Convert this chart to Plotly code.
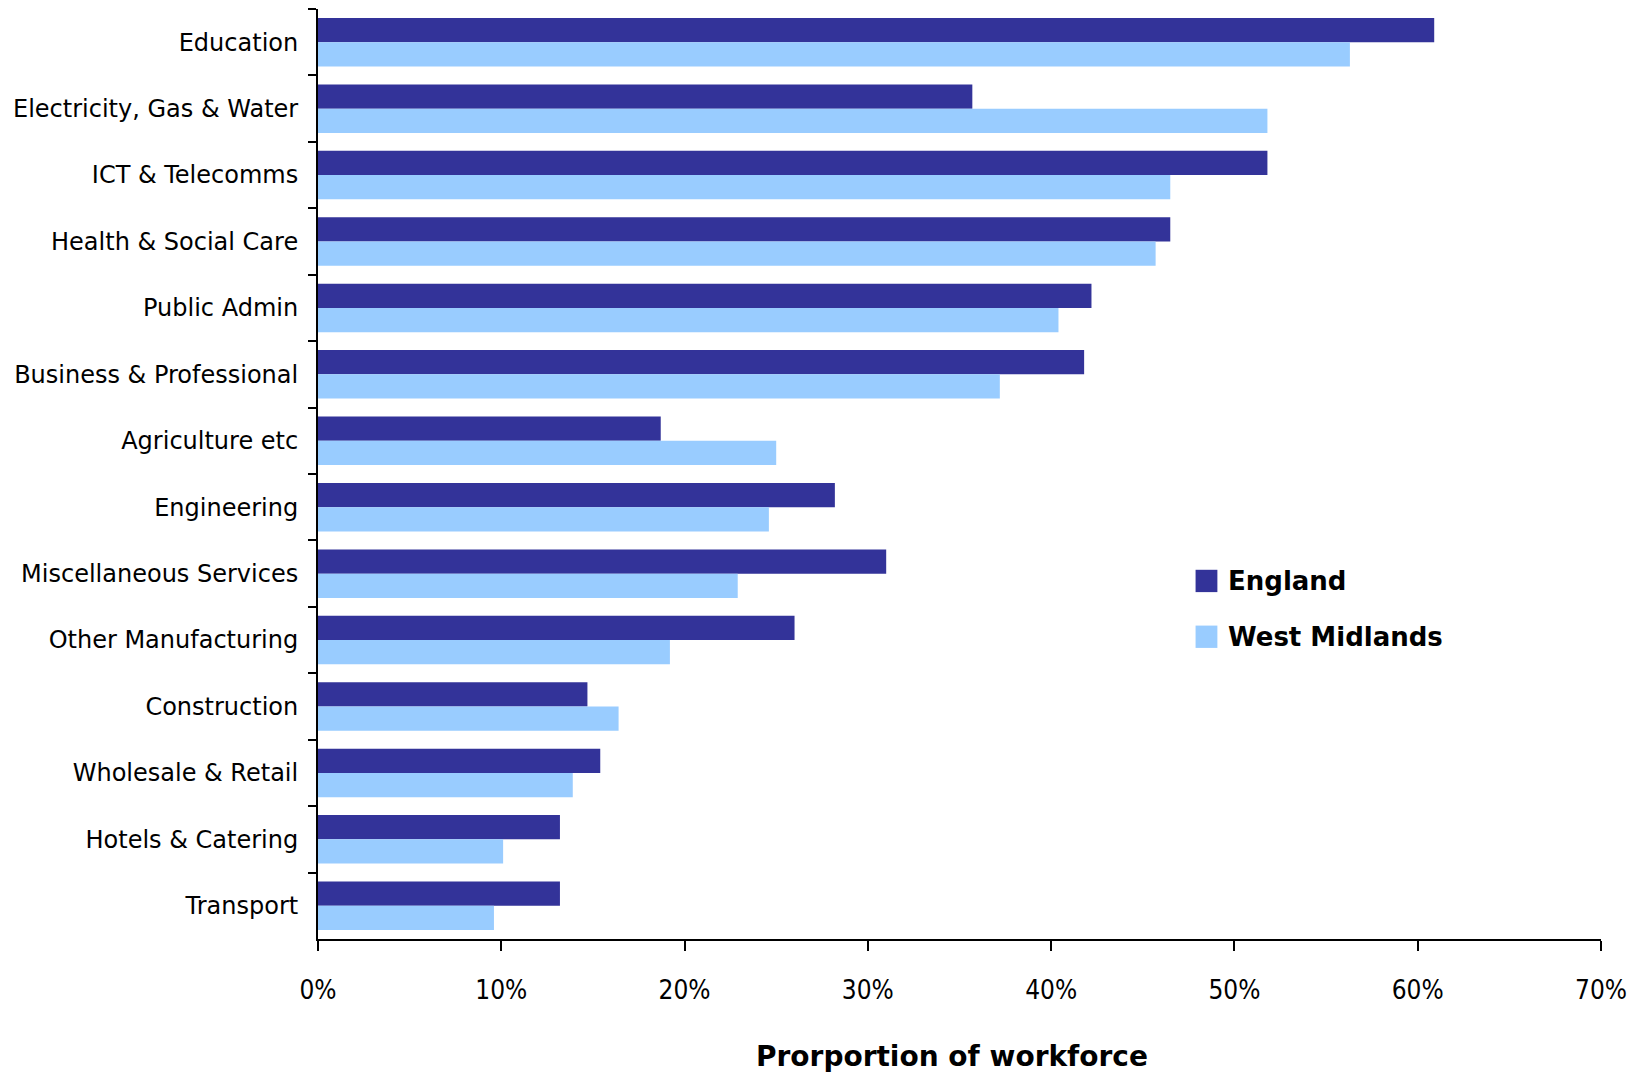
import plotly.graph_objects as go

# sectors, top to bottom as in the chart
sectors = [
    "Education",
    "Electricity, Gas & Water",
    "ICT & Telecomms",
    "Health & Social Care",
    "Public Admin",
    "Business & Professional",
    "Agriculture etc",
    "Engineering",
    "Miscellaneous Services",
    "Other Manufacturing",
    "Construction",
    "Wholesale & Retail",
    "Hotels & Catering",
    "Transport",
]
england = [0.609, 0.357, 0.518, 0.465, 0.422, 0.418, 0.187, 0.282, 0.310, 0.260, 0.147, 0.154, 0.132, 0.132]
west_midlands = [0.563, 0.518, 0.465, 0.457, 0.404, 0.372, 0.250, 0.246, 0.229, 0.192, 0.164, 0.139, 0.101, 0.096]

x_ticks = [0, 0.1, 0.2, 0.3, 0.4, 0.5, 0.6, 0.7]
x_tick_text = ["0%", "10%", "20%", "30%", "40%", "50%", "60%", "70%"]

ENG = "#333399"
WM = "#99CCFF"
FONT = "DejaVu Sans"
NARROW = "DejaVu Sans Condensed, Liberation Sans Narrow, Liberation Sans"

fig = go.Figure()
fig.add_trace(go.Bar(y=sectors, x=england, orientation="h", name="England",
                     marker=dict(color=ENG, line=dict(width=0)), showlegend=False))
fig.add_trace(go.Bar(y=sectors, x=west_midlands, orientation="h", name="West Midlands",
                     marker=dict(color=WM, line=dict(width=0)), showlegend=False))

# legend drawn by hand so the swatches can be as big as the original
legend_items = [("England", ENG, 0.385), ("West Midlands", WM, 0.325)]
for label, col, yy in legend_items:
    fig.add_shape(type="rect", xref="paper", yref="paper",
                  x0=0.684, x1=0.701, y0=yy - 0.012, y1=yy + 0.012,
                  fillcolor=col, line=dict(width=0))
    fig.add_annotation(text=f"<b>{label}</b>", xref="paper", yref="paper",
                       x=0.708, y=yy, xanchor="left", yanchor="middle",
                       showarrow=False, font=dict(family=FONT, size=26, color="black"))

# x axis title
fig.add_annotation(text="<b>Prorportion of workforce</b>", xref="paper", yref="paper",
                   x=0.494, y=-0.126, xanchor="center", yanchor="middle", showarrow=False,
                   font=dict(family=FONT, size=28, color="black"))

# page has an 8px body margin, so the figure is a bit smaller than the window
fig.update_layout(
    width=1627,
    height=1066,
    barmode="group",
    bargap=0.27,
    bargroupgap=0,
    plot_bgcolor="white",
    paper_bgcolor="white",
    margin=dict(l=310, r=34, t=1, b=135),
    font=dict(family=FONT, color="black"),
)

fig.update_yaxes(
    autorange="reversed", automargin=False,
    showline=True, linecolor="black", linewidth=2,
    ticks="outside", tickson="boundaries", ticklen=8, tickwidth=1.5, tickcolor="black",
    tickfont=dict(family=FONT, size=24, color="black"),
    ticklabelstandoff=13,
    showgrid=False,
)
fig.update_xaxes(
    range=[0, 0.7], automargin=False,
    tickvals=x_ticks, ticktext=x_tick_text,
    showline=True, linecolor="black", linewidth=2,
    ticks="outside", ticklen=10, tickwidth=1.5, tickcolor="black",
    tickfont=dict(family=NARROW, size=26, color="black"),
    ticklabelstandoff=17,
    showgrid=False, zeroline=False,
)

fig.write_html("out.html")
